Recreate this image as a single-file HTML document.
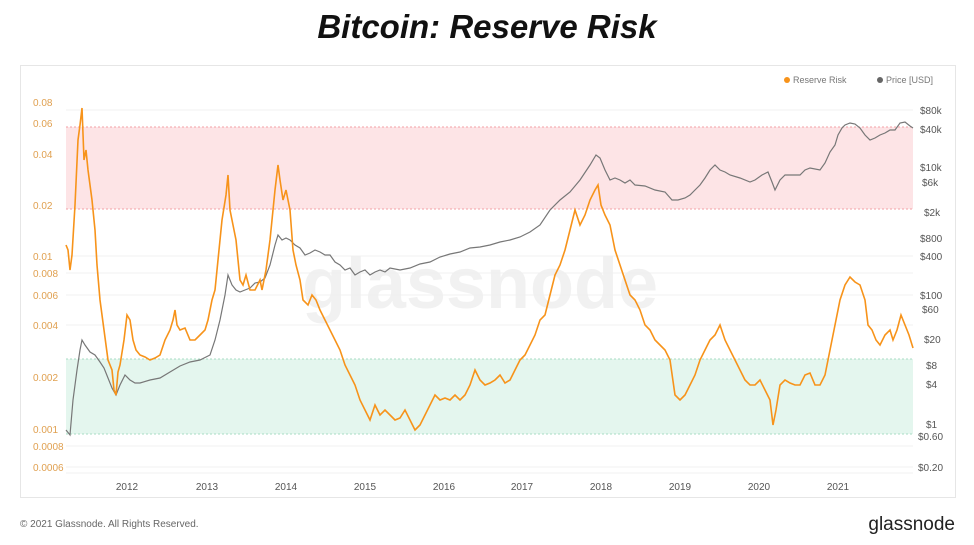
<!DOCTYPE html><html><head><style>
body{margin:0;width:974px;height:545px;background:#fff;font-family:"Liberation Sans",sans-serif;overflow:hidden;position:relative}
</style></head><body>
<div style="position:absolute;top:8px;width:974px;text-align:center;font-weight:bold;font-style:italic;font-size:33px;color:#111">Bitcoin: Reserve Risk</div>
<svg width="974" height="545" style="position:absolute;left:0;top:0" font-family="Liberation Sans, sans-serif">
<rect x="20.5" y="65.5" width="935" height="432" fill="none" stroke="#e6e6e6"/>
<g stroke="#f0f0f0" stroke-width="1">
<line x1="66" x2="913" y1="110" y2="110"/><line x1="66" x2="913" y1="154" y2="154"/><line x1="66" x2="913" y1="256" y2="256"/><line x1="66" x2="913" y1="273" y2="273"/><line x1="66" x2="913" y1="295" y2="295"/><line x1="66" x2="913" y1="325" y2="325"/><line x1="66" x2="913" y1="377" y2="377"/><line x1="66" x2="913" y1="446" y2="446"/><line x1="66" x2="913" y1="467" y2="467"/><line x1="66" x2="913" y1="473" y2="473"/>
</g>
<rect x="66" y="127" width="847" height="82" fill="#fde4e6"/>
<rect x="66" y="359" width="847" height="75" fill="#e4f6ee"/>
<g stroke="#f3a0a6" stroke-dasharray="2,2"><line x1="66" x2="913" y1="127" y2="127"/><line x1="66" x2="913" y1="209" y2="209"/></g>
<g stroke="#a8dcc4" stroke-dasharray="2,2"><line x1="66" x2="913" y1="359" y2="359"/><line x1="66" x2="913" y1="434" y2="434"/></g>
<text x="480" y="308" text-anchor="middle" font-size="72" font-weight="bold" fill="#efefef" fill-opacity="0.9">glassnode</text>
<g font-size="10" fill="#e0a050">
<text x="33" y="106">0.08</text><text x="33" y="127">0.06</text><text x="33" y="158">0.04</text><text x="33" y="209">0.02</text><text x="33" y="260">0.01</text><text x="33" y="277">0.008</text><text x="33" y="299">0.006</text><text x="33" y="329">0.004</text><text x="33" y="381">0.002</text><text x="33" y="433">0.001</text><text x="33" y="450">0.0008</text><text x="33" y="471">0.0006</text>
</g>
<g font-size="10" fill="#555">
<text x="920" y="114">$80k</text><text x="920" y="133">$40k</text><text x="920" y="171">$10k</text><text x="922" y="186">$6k</text><text x="924" y="216">$2k</text><text x="920" y="242">$800</text><text x="920" y="260">$400</text><text x="920" y="299">$100</text><text x="922" y="313">$60</text><text x="924" y="343">$20</text><text x="926" y="369">$8</text><text x="926" y="388">$4</text><text x="926" y="428">$1</text><text x="918" y="440">$0.60</text><text x="918" y="471">$0.20</text>
</g>
<g font-size="10" fill="#555" text-anchor="middle">
<text x="127" y="490">2012</text><text x="207" y="490">2013</text><text x="286" y="490">2014</text><text x="365" y="490">2015</text><text x="444" y="490">2016</text><text x="522" y="490">2017</text><text x="601" y="490">2018</text><text x="680" y="490">2019</text><text x="759" y="490">2020</text><text x="838" y="490">2021</text>
</g>
<circle cx="787" cy="80" r="3" fill="#f7931a"/><text x="793" y="83" font-size="9" fill="#777">Reserve Risk</text>
<circle cx="880" cy="80" r="3" fill="#666"/><text x="886" y="83" font-size="9" fill="#777">Price [USD]</text>
<polyline fill="none" stroke="#777" stroke-width="1.2" points="66,430 70,435 73,400 77,370 80,350 82,340 85,345 90,352 95,355 100,362 104,368 108,378 112,388 116,395 120,385 125,375 130,380 135,383 140,383 150,380 160,378 170,372 180,366 190,362 200,360 210,355 215,340 220,320 225,295 228,275 232,285 236,290 240,292 245,290 250,288 255,283 260,282 265,278 270,265 275,245 278,235 282,240 286,238 290,240 295,245 300,248 305,255 310,253 315,250 320,252 325,255 330,255 335,262 340,265 345,270 350,268 355,275 360,272 365,270 370,275 375,272 380,270 385,272 390,268 400,270 410,268 420,264 430,262 440,257 450,254 460,252 470,248 480,247 490,245 500,242 510,240 520,237 530,232 540,225 550,210 560,200 570,192 580,180 590,165 596,155 600,158 605,170 610,180 615,178 620,180 625,183 630,180 635,185 645,186 655,190 665,192 672,200 678,200 685,198 690,195 695,190 700,185 705,178 710,170 715,165 720,170 725,172 730,175 740,178 750,182 755,180 762,175 768,172 772,182 775,190 780,180 785,175 790,175 800,175 805,170 810,168 820,170 825,163 830,152 835,145 838,135 842,128 845,125 850,123 855,124 860,128 865,135 870,140 875,138 880,135 885,133 890,130 895,130 900,123 905,122 910,126 913,128"/>
<polyline fill="none" stroke="#f7931a" stroke-width="1.6" points="66,245 68,250 70,270 72,255 75,205 78,140 80,125 82,108 84,160 86,150 88,170 92,200 95,230 97,265 100,300 104,330 108,360 112,370 114,390 116,395 118,372 120,365 124,340 127,315 130,320 133,340 136,350 140,355 145,357 150,360 155,358 160,355 165,340 170,330 173,320 175,310 177,325 180,330 185,328 190,340 195,340 200,335 205,330 208,320 212,300 215,290 218,260 222,220 226,195 228,175 230,210 233,225 236,240 238,260 240,280 243,285 246,275 250,290 255,290 260,280 262,290 266,270 270,240 275,190 278,165 280,180 283,200 286,190 290,210 293,250 296,265 300,280 303,300 308,305 312,295 316,300 320,310 325,320 330,330 335,340 340,350 345,365 350,375 355,385 360,400 365,410 370,420 375,405 380,415 385,410 390,415 395,420 400,418 405,410 410,420 415,430 420,425 425,415 430,405 435,395 440,400 445,398 450,400 455,395 460,400 465,395 470,385 475,370 480,380 485,385 490,383 495,380 500,375 505,383 510,380 515,370 520,360 525,355 530,345 535,335 540,320 545,315 550,295 555,275 560,265 565,250 570,230 575,210 580,225 585,215 590,200 595,190 598,185 601,205 605,215 610,225 615,250 620,265 625,280 630,295 635,300 640,310 645,325 650,330 655,340 660,345 665,350 670,360 675,395 680,400 685,395 690,385 695,375 700,360 705,350 710,340 715,335 720,325 725,340 730,350 735,360 740,370 745,380 750,385 755,385 760,380 765,390 770,400 773,425 776,410 780,385 785,380 790,383 795,385 800,385 805,375 810,373 815,385 820,385 825,375 828,360 832,340 836,320 840,300 845,285 850,277 855,282 860,285 865,300 868,325 872,330 876,340 880,345 885,335 890,330 893,340 897,330 901,315 905,325 909,335 913,348"/>
<text x="20" y="527" font-size="10" fill="#666">© 2021 Glassnode. All Rights Reserved.</text>
<text x="955" y="530" font-size="19" fill="#222" text-anchor="end">glassnode</text>
</svg>
</body></html>
